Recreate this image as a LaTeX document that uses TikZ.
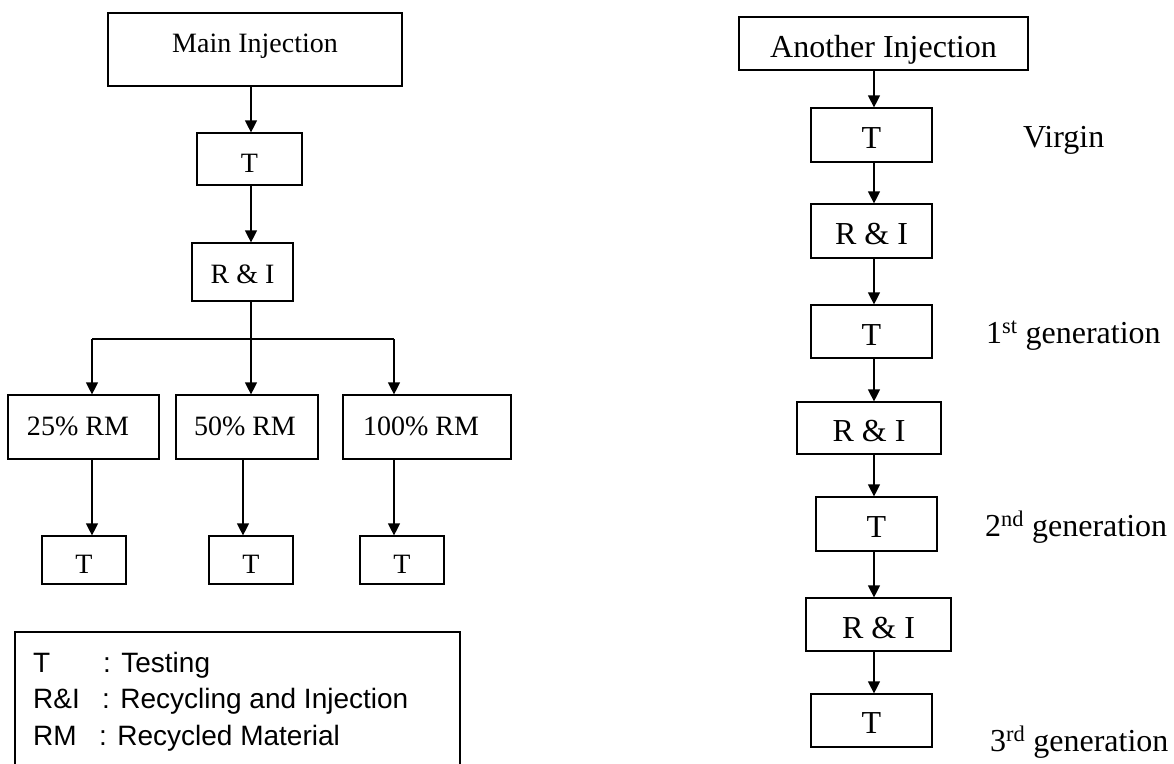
\documentclass[tikz,border=0pt]{standalone}
\usepackage{fontspec}
\setmainfont{Liberation Serif}
\newfontfamily\legfont{Liberation Sans}
\usetikzlibrary{arrows.meta}
\tikzset{
  bx/.style={draw, line width=1.2pt, inner sep=0pt, anchor=base,
    font=\fontsize{28pt}{33pt}\selectfont},
  bxr/.style={bx, font=\fontsize{32pt}{38pt}\selectfont},
  lbl/.style={inner sep=0pt, anchor=base west, font=\fontsize{32pt}{38pt}\selectfont},
  leg/.style={inner sep=0pt, anchor=base west, font=\legfont\fontsize{28pt}{33pt}\selectfont},
  arr/.style={line width=1.2pt, -{Triangle[length=12pt,width=12pt]}},
  ln/.style={line width=1.2pt}
}
\begin{document}
\begin{tikzpicture}[x=1pt,y=-1pt]
\useasboundingbox (0,0) rectangle (1174,763);
% ---------- left chart ----------
\node[bx, text height=39pt, text depth=34pt, minimum width=294pt] (MI) at (255,52) {Main Injection};
\node[bx, text height=39pt, text depth=13pt, minimum width=105pt] (T1) at (249.5,172) {T};
\node[bx, text height=40pt, text depth=18pt, minimum width=101pt] (RI1) at (242.5,283) {R \& I};
\node[bx, text height=40pt, text depth=24pt] (RM25) at (83.5,435) {\makebox[151pt][l]{\hspace{19pt}25\% RM}};
\node[bx, text height=40pt, text depth=24pt] (RM50) at (247,435) {\makebox[142pt][l]{\hspace{18pt}50\% RM}};
\node[bx, text height=40pt, text depth=24pt] (RM100) at (427,435) {\makebox[168pt][l]{\hspace{20pt}100\% RM}};
\node[bx, text height=37pt, text depth=11pt, minimum width=84pt] (T25) at (84,573) {T};
\node[bx, text height=37pt, text depth=11pt, minimum width=84pt] (T50) at (251,573) {T};
\node[bx, text height=37pt, text depth=11pt, minimum width=84pt] (T100) at (402,573) {T};

\coordinate (cL) at (251,0);
\coordinate (cM) at (243,0);
\coordinate (jn) at (251,339);
\coordinate (j25) at (92,339);
\coordinate (j100) at (394,339);

\draw[arr] (MI.south -| cL) -- (T1.north -| cL);
\draw[arr] (T1.south -| cL) -- (RI1.north -| cL);
\draw[ln] (RI1.south -| cL) -- (jn);
\draw[ln] (j25) -- (j100);
\draw[arr] (j25) -- (RM25.north -| j25);
\draw[arr] (jn) -- (RM50.north -| jn);
\draw[arr] (j100) -- (RM100.north -| j100);
\draw[arr] (RM25.south -| j25) -- (T25.north -| j25);
\draw[arr] (RM50.south -| cM) -- (T50.north -| cM);
\draw[arr] (RM100.south -| j100) -- (T100.north -| j100);

% legend
\draw[ln] (15,632) rectangle (460,775);
\node[leg] (k1) at (33,672) {T};
\node[leg] (v1) at (103,672) {: Testing};
\node[leg] (k2) at (33,708) {R\&I};
\node[leg] (v2) at (102,708) {: Recycling and Injection};
\node[leg] (k3) at (33,745) {RM};
\node[leg] (v3) at (99,745) {: Recycled Material};

% ---------- right chart ----------
\node[bxr, text height=40pt, text depth=13pt, minimum width=289pt] (AI) at (883.5,57) {Another Injection};
\node[bxr, text height=40pt, text depth=14pt, minimum width=121pt] (RT0) at (871.5,148) {T};
\node[bxr, text height=40pt, text depth=14pt, minimum width=121pt] (RR1) at (871.5,244) {R \& I};
\node[bxr, text height=40pt, text depth=13pt, minimum width=121pt] (RT1) at (871.5,345) {T};
\node[bxr, text height=39pt, text depth=13pt, minimum width=144pt] (RR2) at (869,441) {R \& I};
\node[bxr, text height=40pt, text depth=14pt, minimum width=121pt] (RT2) at (876.5,537) {T};
\node[bxr, text height=40pt, text depth=13pt, minimum width=145pt] (RR3) at (878.5,638) {R \& I};
\node[bxr, text height=39pt, text depth=14pt, minimum width=121pt] (RT3) at (871.5,733) {T};

\node[lbl] (g0) at (1023,147) {Virgin};
\node[lbl] (g1) at (986,343) {1\textsuperscript{st} generation};
\node[lbl] (g2) at (985,536) {2\textsuperscript{nd} generation};
\node[lbl] (g3) at (990,751) {3\textsuperscript{rd} generation};

\coordinate (cR) at (874,0);
\draw[arr] (AI.south -| cR) -- (RT0.north -| cR);
\draw[arr] (RT0.south -| cR) -- (RR1.north -| cR);
\draw[arr] (RR1.south -| cR) -- (RT1.north -| cR);
\draw[arr] (RT1.south -| cR) -- (RR2.north -| cR);
\draw[arr] (RR2.south -| cR) -- (RT2.north -| cR);
\draw[arr] (RT2.south -| cR) -- (RR3.north -| cR);
\draw[arr] (RR3.south -| cR) -- (RT3.north -| cR);
\end{tikzpicture}
\end{document}
